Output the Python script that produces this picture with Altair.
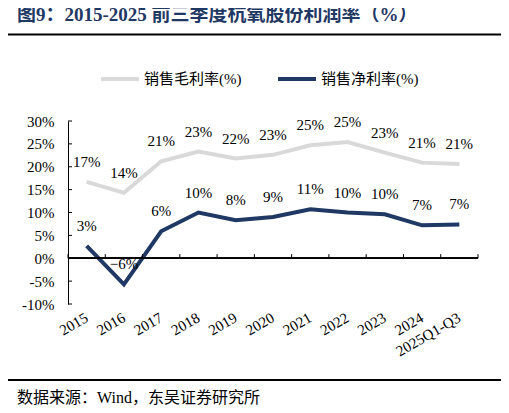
import altair as alt
import pandas as pd

years = ["2015", "2016", "2017", "2018", "2019", "2020", "2021", "2022", "2023", "2024", "2025Q1-Q3"]
gross_margin = [16.7, 14.3, 21.2, 23.3, 21.8, 22.6, 24.7, 25.4, 23.1, 20.9, 20.6]
net_margin = [2.7, -5.7, 5.9, 10.0, 8.3, 9.0, 10.7, 10.0, 9.6, 7.2, 7.4]
series_names = ["销售毛利率(%)", "销售净利率(%)"]
series_colors = ["#d9d9d9", "#1f3864"]
y_ticks = [-10, -5, 0, 5, 10, 15, 20, 25, 30]

title_text = "图9：2015-2025 前三季度杭氧股份利润率（%）"
source_text = "数据来源：Wind，东吴证券研究所"

rows = []
for y, g in zip(years, gross_margin):
    rows.append({"year": y, "series": series_names[0], "value": g})
for y, n in zip(years, net_margin):
    rows.append({"year": y, "series": series_names[1], "value": n})
df = pd.DataFrame(rows)
one = pd.DataFrame({"k": [0]})
tick_df = pd.DataFrame({"year": years, "zero": [0] * len(years), "top": [0.9] * len(years)})
last_df = tick_df.tail(1)
ytick_df = pd.DataFrame({"v": y_ticks})

SERIF = "'Liberation Serif', 'Times New Roman', 'Noto Sans CJK SC', serif"
W, H = 410, 183

xscale = alt.Scale(type="band", domain=years, paddingInner=0, paddingOuter=0)
yscale = alt.Scale(domain=[-10, 30], nice=False, zero=False)
cscale = alt.Scale(domain=series_names, range=series_colors)

xaxis = alt.Axis(title=None, orient="bottom", domain=False, ticks=False,
                 labelAngle=-30, labelAlign="right", labelBaseline="middle",
                 labelPadding=12, labelFont=SERIF, labelFontSize=15,
                 labelColor="#000000", grid=False)
yaxis = alt.Axis(title=None, values=y_ticks, labelExpr="datum.value + '%'",
                 domainColor="#000000", ticks=False, labelOverlap=False,
                 labelPadding=14, labelFont=SERIF, labelFontSize=15,
                 labelColor="#000000", grid=False)

lines = alt.Chart(df).mark_line(strokeWidth=4, strokeCap="butt").encode(
    x=alt.X("year:N", scale=xscale, sort=years, axis=xaxis),
    y=alt.Y("value:Q", scale=yscale, axis=yaxis),
    color=alt.Color("series:N", scale=cscale, sort=series_names,
                    legend=alt.Legend(title=None, orient="none", direction="horizontal",
                                      legendX=31, legendY=-63, symbolType="stroke",
                                      symbolSize=1444, symbolStrokeWidth=4,
                                      labelFont=SERIF, labelFontSize=15,
                                      labelColor="#000000", labelOffset=3,
                                      columnPadding=28, padding=0)),
)

zero_line = alt.Chart(tick_df).mark_rule(color="#000000", strokeWidth=1).encode(
    x=alt.value(0), x2=alt.value(W), y=alt.Y("zero:Q", scale=yscale, axis=yaxis))

x_ticks = alt.Chart(tick_df).mark_rule(color="#000000", strokeWidth=1).encode(
    x=alt.X("year:N", scale=xscale, sort=years, bandPosition=0, axis=xaxis),
    y=alt.Y("zero:Q", scale=yscale, axis=yaxis), y2="top:Q")

x_tick_end = alt.Chart(last_df).mark_rule(color="#000000", strokeWidth=1).encode(
    x=alt.X("year:N", scale=xscale, sort=years, bandPosition=1, axis=xaxis),
    y=alt.Y("zero:Q", scale=yscale, axis=yaxis), y2="top:Q")

y_tick_marks = alt.Chart(ytick_df).mark_rule(color="#000000", strokeWidth=1).encode(
    x=alt.value(0), x2=alt.value(4), y=alt.Y("v:Q", scale=yscale, axis=yaxis))

labels = alt.Chart(df).transform_calculate(
    lab="format(datum.value, '.0f') + '%'"
).mark_text(dy=-20, font=SERIF, fontSize=15, color="#000000").encode(
    x=alt.X("year:N", scale=xscale, sort=years, axis=xaxis),
    y=alt.Y("value:Q", scale=yscale, axis=yaxis),
    text="lab:N",
)

title = alt.Chart(one).mark_text(
    text=title_text, align="left", baseline="middle", font=SERIF,
    fontSize=19, fontWeight="bold", color="#1f3864"
).encode(x=alt.value(-51), y=alt.value(-106))

top_rule = alt.Chart(one).mark_rule(color="#000000", strokeWidth=2).encode(
    x=alt.value(-63), x2=alt.value(435), y=alt.value(-86.5))

bottom_rule = alt.Chart(one).mark_rule(color="#000000", strokeWidth=2).encode(
    x=alt.value(-63), x2=alt.value(435), y=alt.value(259))

source = alt.Chart(one).mark_text(
    text=source_text, align="left", baseline="middle", font=SERIF,
    fontSize=16, color="#000000"
).encode(x=alt.value(-51), y=alt.value(277))

chart = alt.layer(
    lines, zero_line, x_ticks, x_tick_end, y_tick_marks, labels,
    title, top_rule, bottom_rule, source
).properties(
    width=W, height=H,
    padding={"left": 60, "top": 113, "right": 23, "bottom": 101},
    autosize=alt.AutoSizeParams(type="none"),
    background="#ffffff",
).configure_view(stroke=None)

chart.save("out.html", embed_options={"renderer": "svg", "actions": False})
